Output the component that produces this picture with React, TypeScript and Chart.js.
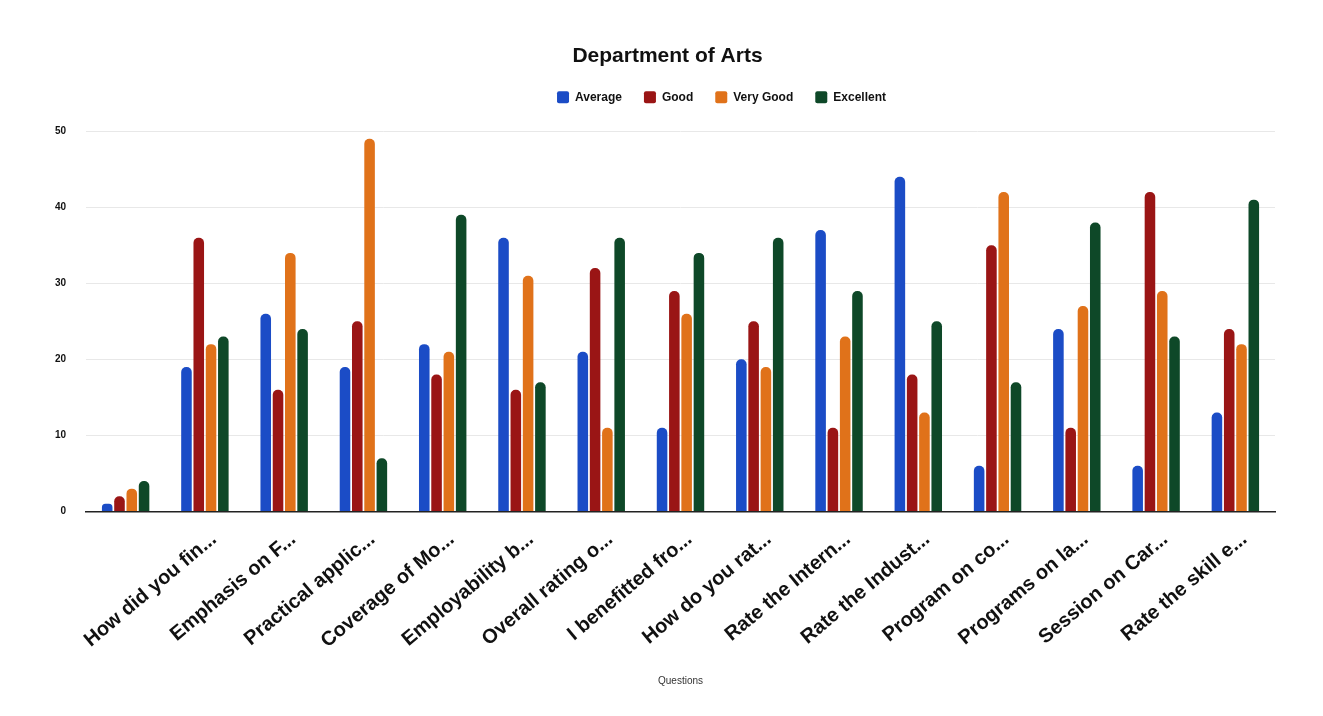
import { useEffect, useRef } from 'react';
import Chart from 'chart.js/auto';

const categories = [
  '',
  'How did you fin...',
  'Emphasis on F...',
  'Practical applic...',
  'Coverage of Mo...',
  'Employability b...',
  'Overall rating o...',
  'I benefitted fro...',
  'How do you rat...',
  'Rate the Intern...',
  'Rate the Indust...',
  'Program on co...',
  'Programs on la...',
  'Session on Car...',
  'Rate the skill e...',
];
const seriesNames = ['Average', 'Good', 'Very Good', 'Excellent'];
const average = [1, 19, 26, 19, 22, 36, 21, 11, 20, 37, 44, 6, 24, 6, 13];
const good = [2, 36, 16, 25, 18, 16, 32, 29, 25, 11, 18, 35, 11, 42, 24];
const veryGood = [3, 22, 34, 49, 21, 31, 11, 26, 19, 23, 13, 42, 27, 29, 22];
const excellent = [4, 23, 24, 7, 39, 17, 36, 34, 36, 29, 25, 17, 38, 23, 41];
const yTicks = [0, 10, 20, 30, 40, 50];
const colors = ['#1b4cc6', '#9a1515', '#e0721a', '#0e4828'];

const FONT = "'Liberation Sans', Arial, sans-serif";

const boxShift = {
  id: 'boxShift',
  afterLayout(chart: any) {
    const t = chart.titleBlock;
    if (t) {
      t.left += 30;
      t.right += 30;
    }
    const l = chart.legend;
    if (l) {
      l.left += 84;
      l.right += 84;
      l.top -= 18;
      l.bottom -= 18;
    }
  },
};

export default function App() {
  const ref = useRef<HTMLCanvasElement | null>(null);
  useEffect(() => {
    if (!ref.current) return;
    const values = [average, good, veryGood, excellent];
    const chart = new Chart(ref.current, {
      type: 'bar',
      data: {
        labels: categories,
        datasets: seriesNames.map((name, i) => ({
          label: name,
          data: values[i],
          backgroundColor: colors[i],
          borderRadius: 5,
          barPercentage: 0.86,
          categoryPercentage: 0.62,
        })),
      },
      plugins: [boxShift],
      options: {
        animation: false,
        responsive: true,
        maintainAspectRatio: false,
        layout: { padding: { left: 0, right: 48, top: 0, bottom: 25 } },
        plugins: {
          title: {
            display: true,
            text: 'Department of Arts',
            color: '#111',
            font: { family: FONT, size: 21, weight: 'bold' },
            padding: { top: 44, bottom: 18 },
          },
          legend: {
            display: true,
            position: 'top',
            labels: {
              boxWidth: 12,
              boxHeight: 12,
              useBorderRadius: true,
              borderRadius: 2,
              padding: 22,
              color: '#111',
              font: { family: FONT, size: 12, weight: 'bold' },
            },
          },
          tooltip: { enabled: false },
        },
        scales: {
          x: {
            grid: { display: false },
            border: { display: true, color: '#222', width: 1.5 },
            ticks: {
              autoSkip: false,
              minRotation: 40,
              maxRotation: 40,
              padding: 8,
              labelOffset: 9,
              color: '#111',
              font: { family: FONT, size: 20, weight: 'bold' },
            },
            title: {
              display: true,
              text: 'Questions',
              color: '#333',
              font: { family: FONT, size: 10 },
              padding: { top: 14 },
            },
          },
          y: {
            min: 0,
            max: 50,
            afterBuildTicks: (s: any) => {
              s.ticks = yTicks.map((v) => ({ value: v }));
            },
            afterFit: (s: any) => {
              s.width = 86;
            },
            grid: { color: '#e8e8e8', drawTicks: false },
            border: { display: false },
            ticks: {
              padding: 20,
              color: '#111',
              font: { family: FONT, size: 10, weight: 'bold' },
            },
          },
        },
      },
    });
    return () => chart.destroy();
  }, []);
  return (
    <div
      style={{
        position: 'fixed',
        left: 0,
        top: 0,
        width: 1323,
        height: 716,
        background: '#fff',
      }}
    >
      <canvas ref={ref} />
    </div>
  );
}
